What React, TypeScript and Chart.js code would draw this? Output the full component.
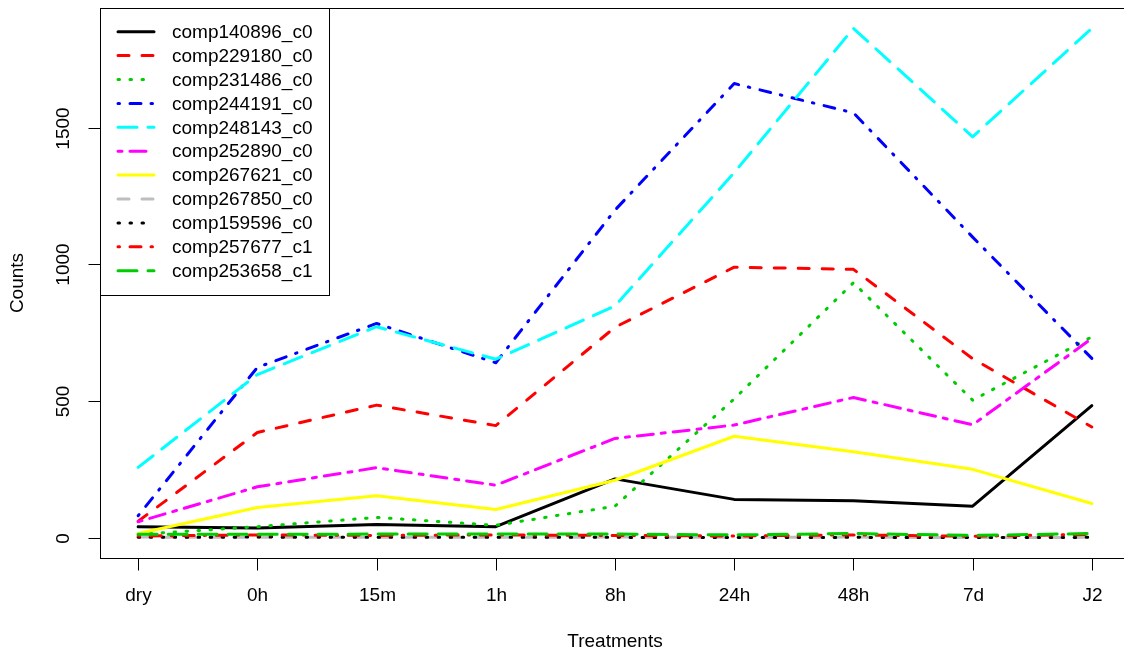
import React, { useEffect, useRef } from "react";
import { Chart, registerables } from "chart.js";

Chart.register(...registerables);

const treatments = ["dry", "0h", "15m", "1h", "8h", "24h", "48h", "7d", "J2"];

const seriesNames = [
  "comp140896_c0",
  "comp229180_c0",
  "comp231486_c0",
  "comp244191_c0",
  "comp248143_c0",
  "comp252890_c0",
  "comp267621_c0",
  "comp267850_c0",
  "comp159596_c0",
  "comp257677_c1",
  "comp253658_c1",
];

const comp140896_c0 = [40, 35, 48, 40, 215, 140, 135, 115, 483];
const comp229180_c0 = [60, 385, 485, 410, 770, 990, 982, 655, 405];
const comp231486_c0 = [12, 40, 74, 45, 115, 508, 933, 503, 735];
const comp244191_c0 = [80, 623, 784, 640, 1199, 1662, 1555, 1100, 656];
const comp248143_c0 = [257, 597, 772, 653, 848, 1336, 1864, 1467, 1864];
const comp252890_c0 = [58, 186, 256, 192, 363, 412, 513, 413, 729];
const comp267621_c0 = [15, 110, 153, 103, 210, 371, 314, 250, 125];
const comp267850_c0 = [2, 1, 1, 1, 2, 1, 2, 0, 1];
const comp159596_c0 = [1, 2, 1, 1, 1, 0, 1, 0, 1];
const comp257677_c1 = [6, 10, 8, 10, 8, 6, 10, 5, 12];
const comp253658_c1 = [12, 12, 13, 13, 13, 10, 15, 8, 15];

const seriesValues = [
  comp140896_c0,
  comp229180_c0,
  comp231486_c0,
  comp244191_c0,
  comp248143_c0,
  comp252890_c0,
  comp267621_c0,
  comp267850_c0,
  comp159596_c0,
  comp257677_c1,
  comp253658_c1,
];

const seriesColors = [
  "#000000",
  "#FF0000",
  "#00CD00",
  "#0000FF",
  "#00FFFF",
  "#FF00FF",
  "#FFFF00",
  "#BEBEBE",
  "#000000",
  "#FF0000",
  "#00CD00",
];

// R line types: solid, dashed, dotted, dotdash, longdash, twodash (scaled for lwd 3, round caps)
const ltyPatterns: number[][] = [
  [],
  [11, 13],
  [1.5, 10.5],
  [1.5, 10.5, 11, 10],
  [19, 11],
  [4, 8, 16, 8],
];
const seriesLty = [0, 1, 2, 3, 4, 5, 0, 1, 2, 3, 4];

const yTicks = [0, 500, 1000, 1500];
const xTitle = "Treatments";
const yTitle = "Counts";

const FONT = '"Liberation Sans", Arial, sans-serif';

const rAxesPlugin = {
  id: "rAxes",
  afterDraw(chart: any) {
    const ctx = chart.ctx as CanvasRenderingContext2D;
    const area = chart.chartArea;
    const xs = chart.scales.x;
    const ys = chart.scales.y;
    ctx.save();
    ctx.setLineDash([]);
    ctx.strokeStyle = "#000";
    ctx.lineWidth = 1;
    // box
    const l = Math.round(area.left) + 0.5;
    const t = Math.round(area.top) + 0.5;
    const r = Math.round(area.right) + 0.5;
    const b = Math.round(area.bottom) + 0.5;
    ctx.strokeRect(l, t, r - l, b - t);

    ctx.fillStyle = "#000";
    ctx.font = `19px ${FONT}`;
    // x ticks
    ctx.textAlign = "center";
    ctx.textBaseline = "middle";
    treatments.forEach((lab, i) => {
      const px = Math.round(xs.getPixelForValue(i)) + 0.5;
      ctx.beginPath();
      ctx.moveTo(px, b);
      ctx.lineTo(px, b + 12);
      ctx.stroke();
      ctx.fillText(lab, px, 596);
    });
    // y ticks
    yTicks.forEach((v) => {
      const py = Math.round(ys.getPixelForValue(v)) + 0.5;
      ctx.beginPath();
      ctx.moveTo(l - 12, py);
      ctx.lineTo(l, py);
      ctx.stroke();
      ctx.save();
      ctx.translate(64, py);
      ctx.rotate(-Math.PI / 2);
      ctx.fillText(String(v), 0, 0);
      ctx.restore();
    });
    // titles
    ctx.fillText(xTitle, (area.left + area.right) / 2, 642);
    ctx.save();
    ctx.translate(18, (area.top + area.bottom) / 2);
    ctx.rotate(-Math.PI / 2);
    ctx.fillText(yTitle, 0, 0);
    ctx.restore();

    // legend
    const lx0 = l;
    const ly0 = t;
    const lw = 229;
    const lh = 287;
    ctx.fillStyle = "#fff";
    ctx.fillRect(lx0, ly0, lw, lh);
    ctx.strokeStyle = "#000";
    ctx.lineWidth = 1;
    ctx.strokeRect(lx0, ly0, lw, lh);
    ctx.textAlign = "left";
    seriesNames.forEach((name, i) => {
      const yy = 31.7 + i * 23.9;
      ctx.save();
      ctx.strokeStyle = seriesColors[i];
      ctx.lineWidth = 3;
      ctx.lineCap = "round";
      ctx.setLineDash(ltyPatterns[seriesLty[i]]);
      ctx.beginPath();
      ctx.moveTo(118, yy);
      ctx.lineTo(154, yy);
      ctx.stroke();
      ctx.restore();
      ctx.fillStyle = "#000";
      ctx.fillText(name, 172, yy + 1);
    });
    ctx.restore();
  },
};

export default function App() {
  const ref = useRef<HTMLCanvasElement>(null);
  useEffect(() => {
    if (!ref.current) return;
    const allVals = seriesValues.flat();
    const vmin = Math.min(...allVals);
    const vmax = Math.max(...allVals);
    const yr = vmax - vmin;
    const n = treatments.length;
    const xr = n - 1;
    const datasets = seriesNames.map((name, i) => ({
      label: name,
      data: seriesValues[i].map((v, j) => ({ x: j, y: v })),
      borderColor: seriesColors[i],
      backgroundColor: seriesColors[i],
      borderWidth: 3,
      borderDash: ltyPatterns[seriesLty[i]],
      borderCapStyle: "round" as const,
      borderJoinStyle: "round" as const,
      pointRadius: 0,
      tension: 0,
      fill: false,
      order: seriesNames.length - 1 - i,
    }));
    const chart = new Chart(ref.current, {
      type: "line",
      data: { datasets },
      options: {
        animation: false,
        responsive: false,
        maintainAspectRatio: false,
        layout: { padding: { left: 100, top: 8, right: 10, bottom: 98 } },
        plugins: { legend: { display: false }, tooltip: { enabled: false } },
        scales: {
          x: {
            type: "linear",
            display: false,
            min: -0.04 * xr,
            max: xr + 0.04 * xr,
          },
          y: {
            type: "linear",
            display: false,
            min: vmin - 0.04 * yr,
            max: vmax + 0.04 * yr,
          },
        },
      },
      plugins: [rAxesPlugin],
    });
    return () => chart.destroy();
  }, []);
  return (
    <div
      style={{
        position: "fixed",
        left: 0,
        top: 0,
        width: 1124,
        height: 656,
        overflow: "hidden",
        background: "#fff",
      }}
    >
      <canvas ref={ref} width={1140} height={656} style={{ width: 1140, height: 656 }} />
    </div>
  );
}
